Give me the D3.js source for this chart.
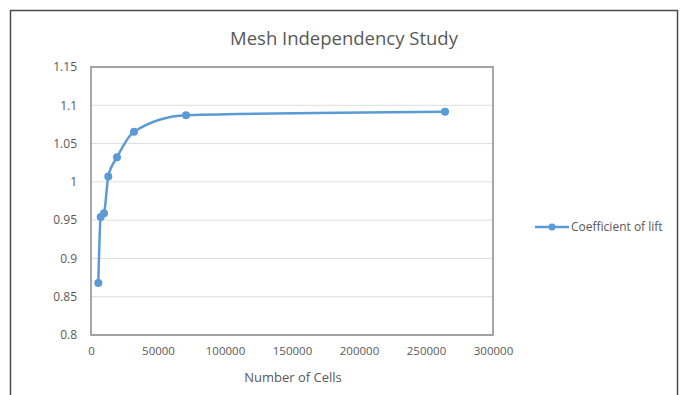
<!DOCTYPE html>
<html>
<head>
<meta charset="utf-8">
<script src="https://cdn.jsdelivr.net/npm/d3@7"></script>
<style>
  html, body { margin: 0; padding: 0; background: #fff; }
  svg { display: block; }
  text { font-family: "Open Sans", "DejaVu Sans", sans-serif; fill: #595959; }
</style>
</head>
<body>
<svg id="chart" width="684" height="395"></svg>
<script>
// Data
const cells = [5450, 7240, 9700, 12900, 19400, 32100, 70900, 264200];
const lift  = [0.868, 0.954, 0.959, 1.007, 1.032, 1.0655, 1.087, 1.0916];
const xTicks = [0, 50000, 100000, 150000, 200000, 250000, 300000];
const yTicks = [0.8, 0.85, 0.9, 0.95, 1, 1.05, 1.1, 1.15];
const seriesName = "Coefficient of lift";
const titleText = "Mesh Independency Study";
const xTitle = "Number of Cells";

const svg = d3.select("#chart");
const plot = {left: 91, right: 493, top: 67, bottom: 335};

// outer chart border
svg.append("rect")
  .attr("x", 10.5).attr("y", 10.5)
  .attr("width", 667).attr("height", 400)
  .attr("fill", "#fff").attr("stroke", "#4a4a4a").attr("stroke-width", 1.5);

const x = d3.scaleLinear().domain([0, 300000]).range([plot.left, plot.right]);
const y = d3.scaleLinear().domain([0.8, 1.15]).range([plot.bottom, plot.top]);

// gridlines
svg.append("g")
  .selectAll("line").data(yTicks).join("line")
  .attr("x1", plot.left).attr("x2", plot.right)
  .attr("y1", d => y(d)).attr("y2", d => y(d))
  .attr("stroke", "#dedede").attr("stroke-width", 1);

// plot area border
svg.append("rect")
  .attr("x", plot.left).attr("y", plot.top)
  .attr("width", plot.right - plot.left).attr("height", plot.bottom - plot.top)
  .attr("fill", "none").attr("stroke", "#8a8a8a").attr("stroke-width", 1.5);

// y axis labels
const yAxis = d3.axisLeft(y).tickValues(yTicks).tickSize(0).tickPadding(14)
  .tickFormat(d => d3.format("")(+d.toFixed(2)));
const gy = svg.append("g").attr("transform", `translate(${plot.left},0)`).call(yAxis);
gy.select(".domain").remove();
gy.selectAll("text").style("font-size", "12px").attr("fill", "#595959")
  .style("font-family", '"Open Sans", sans-serif');

// x axis labels
const xAxis = d3.axisBottom(x).tickValues(xTicks).tickSize(0).tickPadding(12)
  .tickFormat(d3.format("d"));
const gx = svg.append("g").attr("transform", `translate(0,${plot.bottom})`).call(xAxis);
gx.select(".domain").remove();
gx.selectAll("text").style("font-size", "11.5px").attr("fill", "#595959")
  .style("font-family", '"Open Sans", sans-serif');

// title
svg.append("text").attr("x", 344).attr("y", 45).attr("text-anchor", "middle")
  .style("font-size", "18.5px").text(titleText);

// x axis title
svg.append("text").attr("x", 293).attr("y", 382).attr("text-anchor", "middle")
  .style("font-size", "13px").text(xTitle);

// series
const pts = cells.map((c, i) => [c, lift[i]]);
const line = d3.line().x(d => x(d[0])).y(d => y(d[1])).curve(d3.curveMonotoneX);
svg.append("path").datum(pts).attr("d", line)
  .attr("fill", "none").attr("stroke", "#5b9bd5").attr("stroke-width", 2.5)
  .attr("stroke-linejoin", "round");
svg.append("g").selectAll("circle").data(pts).join("circle")
  .attr("cx", d => x(d[0])).attr("cy", d => y(d[1])).attr("r", 4)
  .attr("fill", "#5b9bd5");

// legend
const lg = svg.append("g").attr("transform", "translate(535,227)");
lg.append("line").attr("x1", 0).attr("x2", 34).attr("y1", 0).attr("y2", 0)
  .attr("stroke", "#5b9bd5").attr("stroke-width", 2.5);
lg.append("circle").attr("cx", 17).attr("cy", 0).attr("r", 3.5).attr("fill", "#5b9bd5");
lg.append("text").attr("x", 36).attr("y", 4).style("font-size", "12px").text(seriesName);
</script>
</body>
</html>
